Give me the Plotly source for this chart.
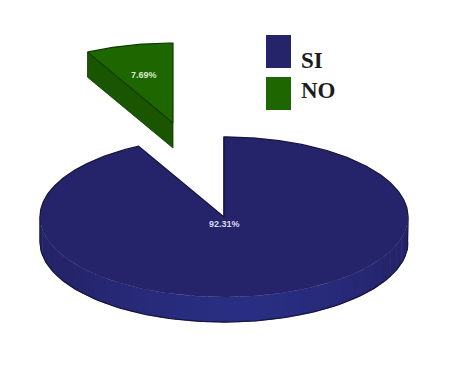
import numpy as np
import plotly.graph_objects as go

categories = ["SI", "NO"]
values = [92.31, 7.69]
value_labels = ["92.31%", "7.69%"]

CX, CY, RX, RY, DEPTH = 224, 217, 184, 80, 25
OFFSET_NO = (-51, -94)
PAGE_MARGIN = 8
TOP = {"SI": "#25246a", "NO": "#1d6600"}
WALL = {"SI": "#2a2f84", "NO": "#1a5500"}
EDGE = {"SI": "#16163f", "NO": "#0e3a00"}


def arc(a0, a1, dx=0, dy=0, n=120):
    t = np.radians(np.linspace(a0, a1, n))
    return CX + dx + RX * np.sin(t), CY + dy - RY * np.cos(t)


def blend(c0, c1, f):
    p = [int(c0[i:i + 2], 16) for i in (1, 3, 5)]
    q = [int(c1[i:i + 2], 16) for i in (1, 3, 5)]
    return "rgb(%d,%d,%d)" % tuple(a + (b - a) * f for a, b in zip(p, q))


fig = go.Figure()


def poly(x, y, fill, line=None, width=0):
    fig.add_trace(go.Scatter(
        x=list(x), y=list(y), mode="lines", fill="toself", fillcolor=fill,
        line=dict(color=line or fill, width=width), hoverinfo="skip", showlegend=False))


def stroke(x, y, color, width):
    fig.add_trace(go.Scatter(x=list(x), y=list(y), mode="lines", line=dict(color=color, width=width),
                             hoverinfo="skip", showlegend=False))


total = sum(values)
start = 0
spans = []
for v in values:
    spans.append((start, start + v / total * 360))
    start += v / total * 360

# SI slice: front wall, brightening smoothly towards the lower middle
a0, a1 = spans[0]
edges = np.linspace(90, 270, 37)
for e0, e1 in zip(edges[:-1], edges[1:]):
    f = max(0.0, 1 - abs((e0 + e1) / 2 - 175) / 60) ** 0.7
    c = blend(TOP["SI"], WALL["SI"], f)
    xt, yt = arc(e0, e1 + 0.4, n=8)
    xb, yb = arc(e1 + 0.4, e0, dy=DEPTH, n=8)
    poly(np.r_[xt, xb], np.r_[yt, yb], c, c, 0.6)
xt, yt = arc(a0, a1, n=300)
poly(np.r_[CX, xt, CX], np.r_[CY, yt, CY], TOP["SI"])
# outline: only the silhouette and the cut edges
xb, yb = arc(90, 270, dy=DEPTH)
xr, yr = arc(0, 90)
xl, yl = arc(270, a1)
stroke(np.r_[CX, xr, xb, xl, CX], np.r_[CY, yr, yb, yl, CY], EDGE["SI"], 1.3)
stroke([CX, CX], [CY, CY - RY], EDGE["SI"], 1.3)

# NO slice, pulled out of the pie
a0, a1 = spans[1]
dx, dy = OFFSET_NO
xa, ya = arc(a0, a0, dx, dy, n=1)
ax, ay = CX + dx, CY + dy
poly([xa[0], ax, ax, xa[0], xa[0]], [ya[0], ay, ay + DEPTH, ya[0] + DEPTH, ya[0]], WALL["NO"], EDGE["NO"], 0.8)
xt, yt = arc(a0, a1, dx, dy, n=40)
poly(np.r_[ax, xt, ax], np.r_[ay, yt, ay], TOP["NO"], EDGE["NO"], 1.2)

fig.add_annotation(x=CX, y=CY + 7, text="<b>%s</b>" % value_labels[0], showarrow=False,
                   font=dict(family="Liberation Sans", size=9, color="#d8d8ee"))
fig.add_annotation(x=144, y=75, text="<b>%s</b>" % value_labels[1], showarrow=False,
                   font=dict(family="Liberation Sans", size=9, color="#d5ecc8"))

# Legend
key_y = [(35, 68), (77, 110)]
label_y = [60, 90]
for name, (y0, y1), ly in zip(categories, key_y, label_y):
    fig.add_shape(type="rect", x0=266, x1=291, y0=y0, y1=y1, fillcolor=TOP[name], line_width=0)
    fig.add_annotation(x=299, y=ly, text="<b>%s</b>" % name, showarrow=False, xanchor="left",
                       font=dict(family="Liberation Serif", size=23, color="#1c1c1c"))

fig.update_layout(
    width=459 - PAGE_MARGIN, height=374 - 2 * PAGE_MARGIN, margin=dict(l=0, r=0, t=0, b=0), showlegend=False,
    paper_bgcolor="white", plot_bgcolor="white",
    xaxis=dict(range=[PAGE_MARGIN, 459], visible=False, fixedrange=True),
    yaxis=dict(range=[374 - PAGE_MARGIN, PAGE_MARGIN], visible=False, fixedrange=True),
)
fig.write_html("out.html", config={"displayModeBar": False})
